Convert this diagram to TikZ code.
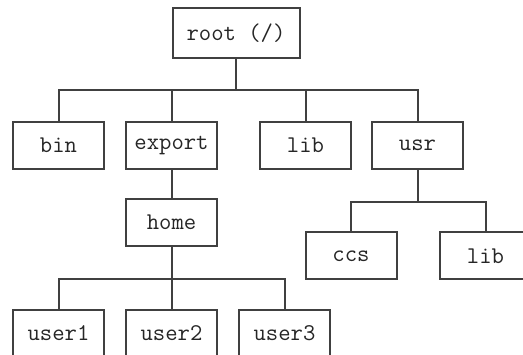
\documentclass[tikz,border=0pt]{standalone}
\usepackage{fontspec}
\usetikzlibrary{positioning}
\definecolor{treegray}{gray}{0.25}
\tikzset{
  dirbox/.style={draw=treegray,line width=2pt,minimum width=91pt,minimum height=47pt,
    inner sep=0pt,font=\ttfamily\fontsize{24}{26}\selectfont,text=black!85},
  branch/.style={treegray,line width=2pt}
}
\begin{document}
\begin{tikzpicture}[x=1pt,y=1pt]
            \useasboundingbox[fill=white] (0,0) rectangle (523,355);
            % top level
            \node[dirbox,minimum width=127pt,minimum height=50pt] (root) at (236,322) {root (/)};
            \node[dirbox] (bin) at (58.5,209.5) {bin};
            \node[dirbox] (export) at (171.5,209.5) {export};
            \node[dirbox] (lib) at (305.5,209.5) {lib};
            \node[dirbox] (usr) at (417.5,209.5) {usr};
            % second level
            \node[dirbox] (home) at (171.5,132.5) {home};
            \node[dirbox] (ccs) at (351,99) {ccs};
            \node[dirbox] (usrlib) at (485.5,99) {lib};
            % users
            \node[dirbox] (user1) at (58.5,21.5) {user1};
            \node[dirbox] (user2) at (171.5,21.5) {user2};
            \node[dirbox] (user3) at (284.5,21.5) {user3};
            % branches
            \draw[branch] (root.south) -- ++(0,-31) -| (bin.north);
            \draw[branch] (root.south) -- ++(0,-31) -| (export.north);
            \draw[branch] (root.south) -- ++(0,-31) -| (lib.north);
            \draw[branch] (root.south) -- ++(0,-31) -| (usr.north);
            \draw[branch] (export.south) -- (home.north);
            \draw[branch] (usr.south) -- ++(0,-32) -| (ccs.north);
            \draw[branch] (usr.south) -- ++(0,-32) -| (usrlib.north);
            \draw[branch] (home.south) -- ++(0,-32) -| (user1.north);
            \draw[branch] (home.south) -- ++(0,-32) -| (user2.north);
            \draw[branch] (home.south) -- ++(0,-32) -| (user3.north);
        \end{tikzpicture}
\end{document}
